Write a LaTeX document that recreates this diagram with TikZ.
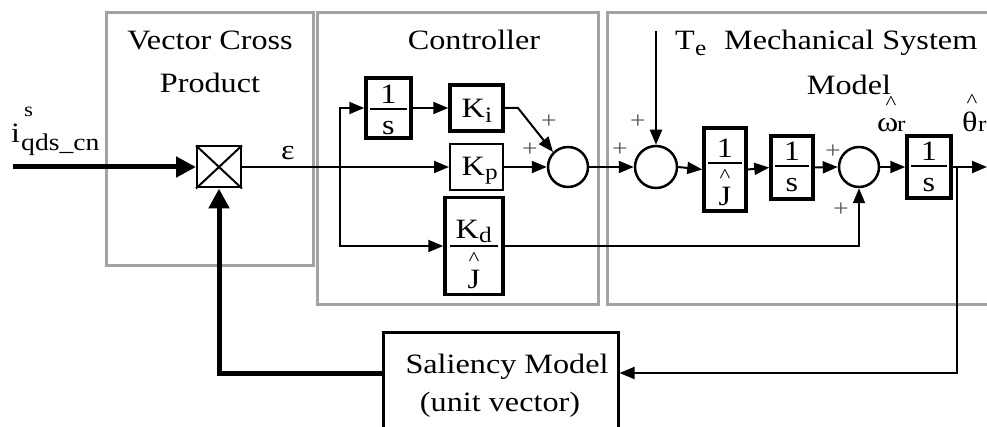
\documentclass[tikz,border=0pt]{standalone}
\usepackage{fontspec}
\setmainfont{Liberation Serif}[FakeStretch=1.15]
\usetikzlibrary{arrows.meta}
\newcommand\fbig{\fontsize{28}{32}\selectfont}
\newcommand\fsub{\fontsize{22}{24}\selectfont}
\newcommand\fhat{\fontsize{20}{20}\selectfont}
\begin{document}
\begin{tikzpicture}[x=1pt,y=-1pt,
  grp/.style={draw=black!36, line width=3pt},
  blk/.style={draw, line width=3.5pt, fill=white, rectangle, inner sep=0pt},
  thinblk/.style={draw, line width=2pt, fill=white, rectangle, inner sep=0pt},
  sumc/.style={draw, circle, line width=2.5pt, minimum size=40pt, inner sep=0pt},
  sig/.style={line width=2pt, -{Triangle[length=15pt,width=12pt]}},
  ln/.style={line width=2pt},
  thk/.style={line width=5pt, -{Triangle[length=20pt,width=20pt]}},
  txt/.style={font=\fbig, inner sep=0pt, anchor=base},
  subt/.style={font=\fsub, inner sep=0pt, anchor=base west},
  hatt/.style={font=\fhat, inner sep=0pt, anchor=base},
  pl/.style={font=\fontsize{24}{24}\selectfont, text=black!65, inner sep=0pt}]
\useasboundingbox (0,0) rectangle (987,427);
\fill[white] (0,0) rectangle (987,427);

% group frames
\draw[grp] (106,13) rectangle (313,266);
\draw[grp] (317,13) rectangle (598,305);
\draw[grp] (607,13) rectangle (1000,305);

% group titles
\node[txt] (tvc) at (210,50) {Vector Cross};
\node[txt] (tvp) at (210,93) {Product};
\node[txt] (tctl) at (474,50) {Controller};
\node[txt, anchor=base west] (tmech) at (724,50) {Mechanical System};
\node[txt] (tmodel) at (849,95) {Model};

% blocks
\node[thinblk, minimum width=44pt, minimum height=41pt] (cross) at (219,167) {};
\draw[line width=2pt] (cross.north west) -- (cross.south east)
                      (cross.north east) -- (cross.south west);
\node[blk, minimum width=45pt, minimum height=60pt] (int1) at (388.5,108) {};
\node[blk, minimum width=53pt, minimum height=46pt] (ki) at (476.5,108) {};
\node[thinblk, minimum width=53pt, minimum height=46pt] (kp) at (476.5,167) {};
\node[blk, minimum width=58pt, minimum height=97pt] (kd) at (474,246) {};
\node[sumc] (s1) at (568,167) {};
\node[sumc, minimum size=42pt] (s2) at (656,167) {};
\node[blk, minimum width=42pt, minimum height=83pt] (invj) at (725,169.5) {};
\node[blk, minimum width=42pt, minimum height=63pt] (int2) at (792,167.5) {};
\node[sumc] (s3) at (859,167) {};
\node[blk, minimum width=44pt, minimum height=62pt] (int3) at (929,167) {};
\node[draw, line width=3pt, rectangle, minimum width=235pt, minimum height=140pt, inner sep=0pt] (sal) at (500.5,402) {};

% block contents
\node[txt] (n1) at (388.5,104) {1};
\draw[ln] (370,109) -- (407,109);
\node[txt] (d1) at (388.5,135) {s};

\node[txt, anchor=base east] (kiK) at (485,118) {K};
\node[subt] (kii) at (485,123) {i};
\node[txt, anchor=base east] (kpK) at (485,176) {K};
\node[subt] (kpp) at (485,180) {p};

\node[txt, anchor=base east] (kdK) at (479,239) {K};
\node[subt] (kdd) at (479,243) {d};
\draw[ln] (450,246) -- (498,246);
\node[hatt] (kdh) at (474,266) {\textasciicircum};
\node[txt] (kdJ) at (474,289) {J};

\node[txt] (n2) at (725,158) {1};
\draw[ln] (708,163) -- (742,163);
\node[hatt] (jh) at (725,183) {\textasciicircum};
\node[txt] (jJ) at (725,206) {J};

\node[txt] (n3) at (792,161) {1};
\draw[ln] (775,166) -- (809,166);
\node[txt] (d3) at (792,192) {s};

\node[txt] (n4) at (929,161) {1};
\draw[ln] (911,166) -- (947,166);
\node[txt] (d4) at (929,192) {s};

\node[txt] (sal1) at (507,373) {Saliency Model};
\node[txt] (sal2) at (500,411) {(unit vector)};

% labels
\node[txt, anchor=base west] (ii) at (11,143) {i};
\node[subt, font=\fontsize{20}{20}\selectfont] (is) at (24,117) {s};
\node[subt, font=\fontsize{24}{24}\selectfont] (iq) at (21,151) {qds\_cn};
\node[txt] (eps) at (288,160) {ε};
\node[txt, anchor=base west] (Te) at (675,50) {T};
\node[subt] (Tee) at (695,56) {e};
\node[txt, anchor=base west] (om) at (877,132) {ω};
\node[subt] (omr) at (897,132) {r};
\node[hatt] (omh) at (891,110) {\textasciicircum};
\node[txt, anchor=base west] (th) at (962,132) {θ};
\node[subt] (thr) at (978,132) {r};
\node[hatt] (thh) at (972,108) {\textasciicircum};

% plus signs
\node[pl] at (549,122) {+};
\node[pl] at (530,150) {+};
\node[pl] at (620,150) {+};
\node[pl] at (638,122) {+};
\node[pl] at (833,152) {+};
\node[pl] at (841,210) {+};

% coordinates
\coordinate (in) at (13,167);
\coordinate (br1) at (340,167);
\coordinate (kiout) at (518,108);
\coordinate (tein) at (656,31);
\coordinate (br2) at (957,167);
\coordinate (out) at (987,167);
\coordinate (fb) at (957,373);

% signals
\draw[thk] (in) -- (cross.west);
\draw[sig] (cross.east) -- (kp.west);
\draw[sig] (br1) |- (int1.west);
\draw[sig] (br1) |- (kd.west);
\draw[sig] (int1.east) -- (ki.west);
\draw[sig] (ki.east) -- (kiout) -- (s1.north west);
\draw[sig] (kp.east) -- (s1.west);
\draw[sig] (s1.east) -- (s2.west);
\draw[sig] (tein) -- (s2.north);
\draw[sig] (s2.east) -- (invj.west);
\draw[sig] (invj.east) -- (int2.west);
\draw[sig] (int2.east) -- (s3.west);
\draw[sig] (s3.east) -- (int3.west);
\draw[sig] (int3.east) -- (out);
\draw[sig] (kd.east) -| (s3.south);
\draw[sig] (br2) -- (fb) -- (fb -| sal.east);
\draw[thk] (sal.west |- fb) -| (cross.south);
\end{tikzpicture}
\end{document}
